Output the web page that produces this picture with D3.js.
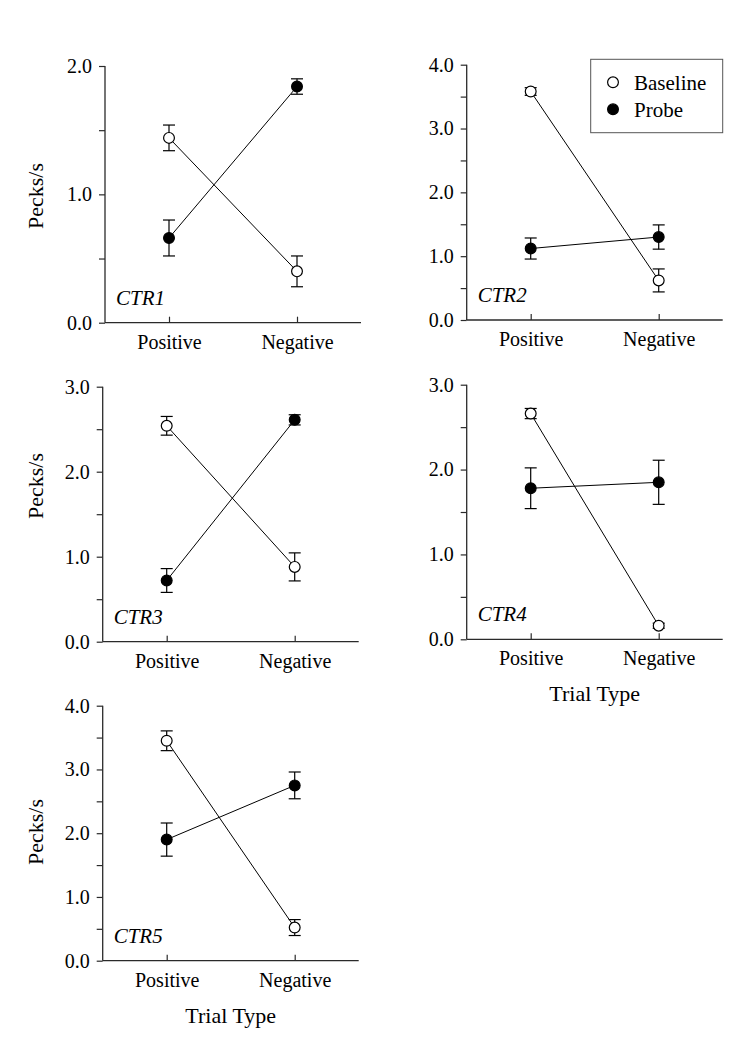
<!DOCTYPE html>
<html>
<head>
<meta charset="utf-8">
<script src="https://cdn.jsdelivr.net/npm/d3@7"></script>
<style>
  html, body { margin: 0; padding: 0; background: #fff; }
  svg { display: block; }
  svg text { font-family: 'Liberation Serif', 'Times New Roman', Times, 'DejaVu Serif', serif !important; fill: #000; }
</style>
</head>
<body>
<svg id="chart" width="742" height="1050"></svg>
<script>
// ---- data ----
const categories = ["Positive", "Negative"];
const panelNames = ["CTR1", "CTR2", "CTR3", "CTR4", "CTR5"];
const yMaxValues = [2, 4, 3, 3, 4];
const baselineMeans = [[1.44, 0.40], [3.58, 0.62], [2.54, 0.88], [2.66, 0.16], [3.45, 0.52]];
const baselineErrors = [[0.10, 0.12], [0.06, 0.18], [0.11, 0.165], [0.06, 0.03], [0.155, 0.125]];
const probeMeans = [[0.66, 1.84], [1.12, 1.30], [0.72, 2.61], [1.78, 1.85], [1.90, 2.75]];
const probeErrors = [[0.14, 0.06], [0.165, 0.19], [0.14, 0.06], [0.24, 0.26], [0.26, 0.21]];
const seriesNames = ["Baseline", "Probe"];
const yTitle = "Pecks/s";
const xTitle = "Trial Type";

// ---- layout ----
const layout = [
  { left: 105,   top: 66,    bottom: 322.7, yLabel: 196, xLabel: false },
  { left: 466.7, top: 64.7,  bottom: 320,   yLabel: null, xLabel: false },
  { left: 102.7, top: 386.7, bottom: 641.7, yLabel: 486, xLabel: false },
  { left: 466.7, top: 384.7, bottom: 639.3, yLabel: null, xLabel: true },
  { left: 102.7, top: 705.7, bottom: 960.7, yLabel: 832, xLabel: true }
];
const W = 256;
const axisColor = "#2a2a2a";
const FONT = "'Liberation Serif', 'Times New Roman', Times, 'DejaVu Serif', serif";

const svg = d3.select("#chart");

panelNames.forEach((name, i) => {
  const L = layout[i];
  const g = svg.append("g").attr("font-family", FONT);
  const x = d3.scalePoint().domain(categories).range([L.left, L.left + W]).padding(0.5);
  const y = d3.scaleLinear().domain([0, yMaxValues[i]]).range([L.bottom, L.top]);

  // y axis
  const yTicks = d3.range(0, yMaxValues[i] + 0.001, 0.5);
  const yAxis = d3.axisLeft(y).tickValues(yTicks).tickSize(6).tickPadding(7)
    .tickFormat(d => Math.abs(d - Math.round(d)) < 1e-6 ? d3.format(".1f")(d) : "");
  const ya = g.append("g").attr("transform", `translate(${L.left},0)`).call(yAxis).attr("font-family", FONT);
  ya.select(".domain").attr("stroke", axisColor).attr("stroke-width", 1.3).attr("d", `M0,${L.top}V${L.bottom}`);
  ya.selectAll(".tick line").attr("stroke", axisColor).attr("stroke-width", 1.2);
  ya.selectAll(".tick text").attr("font-size", 20).style("font-family", FONT).attr("fill", "#000");

  // x axis
  const xAxis = d3.axisBottom(x).tickSize(-6).tickPadding(12);
  const xa = g.append("g").attr("transform", `translate(0,${L.bottom})`).call(xAxis).attr("font-family", FONT);
  xa.select(".domain").attr("stroke", axisColor).attr("stroke-width", 1.3).attr("d", `M${L.left},0H${L.left + W}`);
  xa.selectAll(".tick line").attr("stroke", axisColor).attr("stroke-width", 1.2);
  xa.selectAll(".tick text").attr("font-size", 20).style("font-family", FONT).attr("fill", "#000").attr("dy", "0.71em");

  // series
  const series = [
    { name: seriesNames[0], means: baselineMeans[i], errs: baselineErrors[i], fill: "#fff" },
    { name: seriesNames[1], means: probeMeans[i], errs: probeErrors[i], fill: "#000" }
  ];
  const line = d3.line().x(d => x(d.c)).y(d => y(d.v));
  series.forEach(s => {
    const pts = categories.map((c, j) => ({ c, v: s.means[j], e: s.errs[j] }));
    g.append("path").datum(pts).attr("d", line).attr("fill", "none").attr("stroke", "#000").attr("stroke-width", 1);
    const eb = g.append("g");
    pts.forEach(p => {
      const cx = x(p.c), y1 = y(p.v + p.e), y0 = y(p.v - p.e);
      eb.append("line").attr("x1", cx).attr("x2", cx).attr("y1", y1).attr("y2", y0).attr("stroke", "#000").attr("stroke-width", 1.2);
      eb.append("line").attr("x1", cx - 6).attr("x2", cx + 6).attr("y1", y1).attr("y2", y1).attr("stroke", "#000").attr("stroke-width", 1.2);
      eb.append("line").attr("x1", cx - 6).attr("x2", cx + 6).attr("y1", y0).attr("y2", y0).attr("stroke", "#000").attr("stroke-width", 1.2);
    });
    s.pts = pts;
  });
  series.forEach(s => {
    g.selectAll(null).data(s.pts).enter().append("circle")
      .attr("cx", d => x(d.c)).attr("cy", d => y(d.v)).attr("r", 5.4)
      .attr("fill", s.fill).attr("stroke", "#000").attr("stroke-width", 1.2);
  });

  // panel label
  g.append("text").attr("x", L.left + 11).attr("y", L.bottom - 18)
    .attr("font-size", 21).attr("font-style", "italic").style("font-family", FONT).text(name);

  if (L.yLabel !== null) {
    g.append("text").attr("transform", `translate(43,${L.yLabel}) rotate(-90)`)
      .attr("text-anchor", "middle").attr("font-size", 22).style("font-family", FONT).text(yTitle);
  }
  if (L.xLabel) {
    g.append("text").attr("x", L.left + W / 2).attr("y", L.bottom + 62)
      .attr("text-anchor", "middle").attr("font-size", 22).style("font-family", FONT).text(xTitle);
  }

  // legend in panel 2
  if (i === 1) {
    const lg = svg.append("g").attr("font-family", FONT);
    lg.append("rect").attr("x", 590.7).attr("y", 59.3).attr("width", 132).attr("height", 73.4)
      .attr("fill", "#fff").attr("stroke", "#555").attr("stroke-width", 1);
    series.forEach((s, k) => {
      const yy = 82.3 + k * 27;
      lg.append("circle").attr("cx", 613).attr("cy", yy).attr("r", 5.4)
        .attr("fill", s.fill).attr("stroke", "#000").attr("stroke-width", 1.2);
      lg.append("text").attr("x", 634).attr("y", yy).attr("dy", "0.35em").attr("font-size", 21)
        .style("font-family", FONT).text(s.name);
    });
  }
});
</script>
</body>
</html>
